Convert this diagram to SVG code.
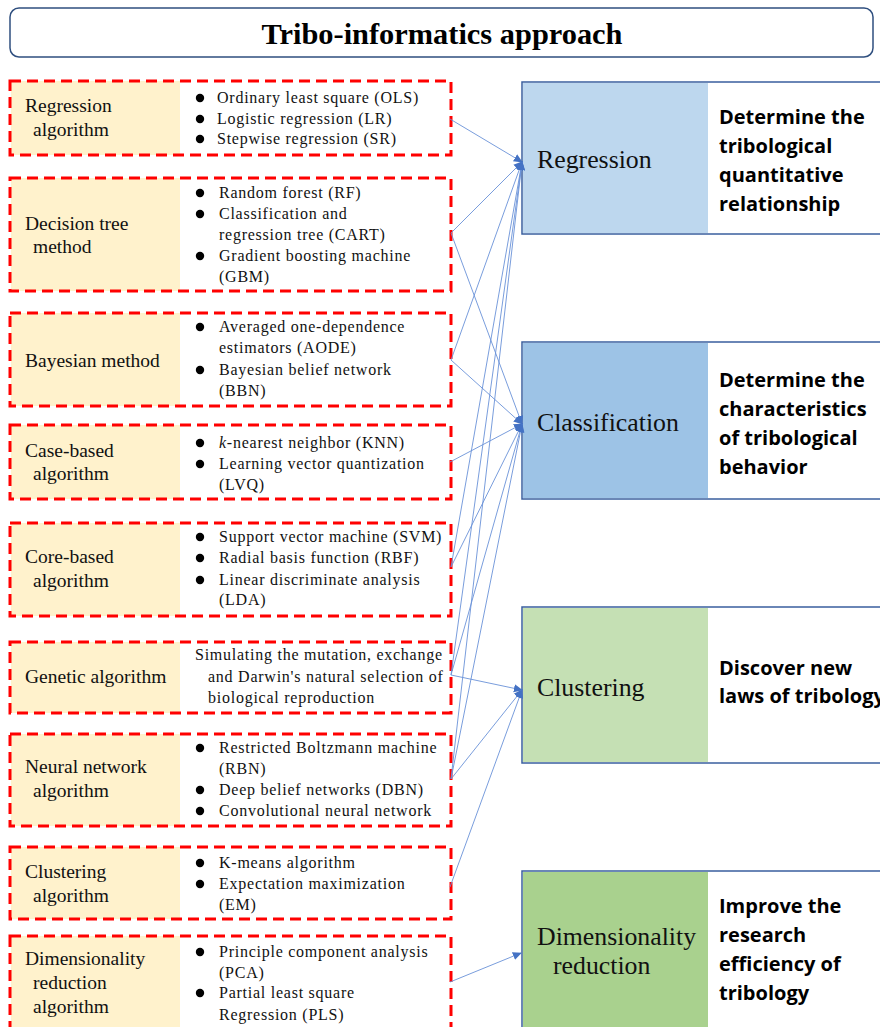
<svg xmlns="http://www.w3.org/2000/svg" width="880" height="1027" viewBox="0 0 880 1027">
  <defs>
    <marker id="arrow" viewBox="0 0 10 10" refX="9" refY="5" markerWidth="9" markerHeight="9" markerUnits="userSpaceOnUse" orient="auto">
      <path d="M0,0.5 L10,5 L0,9.5 Z" fill="#4472C4"/>
    </marker>
    <style>
      .frame { fill: none; stroke: #FF0000; stroke-width: 3; stroke-dasharray: 11 6; }
      .tag { fill: #FFF2CC; }
      .lbl { font-family: "Liberation Serif", "Times New Roman", serif; font-size: 19.5px; fill: #111; }
      .item { font-family: "Liberation Serif", "Times New Roman", serif; font-size: 16px; letter-spacing: 0.75px; fill: #111; }
      .dot { fill: #000; }
      .goal { stroke: #3A5F9E; stroke-width: 1.5; fill: #fff; }
      .goal-name { font-family: "Liberation Serif", "Times New Roman", serif; font-size: 25.8px; fill: #111; }
      .goal-text { font-family: "Open Sans", "Noto Sans", sans-serif; font-weight: bold; font-size: 20px; fill: #000; }
      .link { fill: none; stroke: #6A92D8; stroke-width: 0.9; marker-end: url(#arrow); }
    </style>
  </defs>

  <rect width="880" height="1027" fill="#fff"/>

  <!-- header -->
  <g id="title">
    <rect x="10" y="8" width="863" height="49" rx="9" fill="#fff" stroke="#2F4F7F" stroke-width="1.5"/>
    <text x="442" y="44" text-anchor="middle" font-family="Liberation Serif, Times New Roman, serif" font-weight="bold" font-size="30" textLength="361" lengthAdjust="spacingAndGlyphs" fill="#000">Tribo-informatics approach</text>
  </g>

  <!-- algorithm families -->
  <g id="regression-algorithm">
    <rect class="tag" x="11" y="81" width="169" height="74"/>
    <rect class="frame" x="10" y="81" width="441" height="74"/>
    <text class="lbl" x="25" y="112">Regression</text>
    <text class="lbl" x="33" y="136">algorithm</text>
    <circle class="dot" cx="200" cy="98" r="4.2"/>
    <circle class="dot" cx="200" cy="119" r="4.2"/>
    <circle class="dot" cx="200" cy="139" r="4.2"/>
    <text class="item" x="217" y="103">Ordinary least square (OLS)</text>
    <text class="item" x="217" y="124">Logistic regression (LR)</text>
    <text class="item" x="217" y="144">Stepwise regression (SR)</text>
  </g>

  <g id="decision-tree">
    <rect class="tag" x="11" y="178" width="169" height="113"/>
    <rect class="frame" x="10" y="178" width="441" height="113"/>
    <text class="lbl" x="25" y="230">Decision tree</text>
    <text class="lbl" x="33" y="253">method</text>
    <circle class="dot" cx="200" cy="193" r="4.2"/>
    <circle class="dot" cx="200" cy="214" r="4.2"/>
    <circle class="dot" cx="200" cy="256" r="4.2"/>
    <text class="item" x="219" y="198">Random forest (RF)</text>
    <text class="item" x="219" y="219">Classification and</text>
    <text class="item" x="219" y="240">regression tree (CART)</text>
    <text class="item" x="219" y="261">Gradient boosting machine</text>
    <text class="item" x="219" y="282">(GBM)</text>
  </g>

  <g id="bayesian">
    <rect class="tag" x="11" y="313" width="169" height="93"/>
    <rect class="frame" x="10" y="313" width="441" height="93"/>
    <text class="lbl" x="25" y="367">Bayesian method</text>
    <circle class="dot" cx="200" cy="327" r="4.2"/>
    <circle class="dot" cx="200" cy="370" r="4.2"/>
    <text class="item" x="219" y="332">Averaged one-dependence</text>
    <text class="item" x="219" y="353">estimators (AODE)</text>
    <text class="item" x="219" y="375">Bayesian belief network</text>
    <text class="item" x="219" y="396">(BBN)</text>
  </g>

  <g id="case-based">
    <rect class="tag" x="11" y="425" width="169" height="74"/>
    <rect class="frame" x="10" y="425" width="441" height="74"/>
    <text class="lbl" x="25" y="457">Case-based</text>
    <text class="lbl" x="33" y="480">algorithm</text>
    <circle class="dot" cx="200" cy="443" r="4.2"/>
    <circle class="dot" cx="200" cy="464" r="4.2"/>
    <text class="item" x="219" y="448"><tspan font-style="italic">k</tspan>-nearest neighbor (KNN)</text>
    <text class="item" x="219" y="469">Learning vector quantization</text>
    <text class="item" x="219" y="490">(LVQ)</text>
  </g>

  <g id="core-based">
    <rect class="tag" x="11" y="523" width="169" height="93"/>
    <rect class="frame" x="10" y="523" width="441" height="93"/>
    <text class="lbl" x="25" y="563">Core-based</text>
    <text class="lbl" x="33" y="587">algorithm</text>
    <circle class="dot" cx="200" cy="537" r="4.2"/>
    <circle class="dot" cx="200" cy="558" r="4.2"/>
    <circle class="dot" cx="200" cy="580" r="4.2"/>
    <text class="item" x="219" y="542">Support vector machine (SVM)</text>
    <text class="item" x="219" y="563">Radial basis function (RBF)</text>
    <text class="item" x="219" y="585">Linear discriminate analysis</text>
    <text class="item" x="219" y="605">(LDA)</text>
  </g>

  <g id="genetic">
    <rect class="tag" x="11" y="642" width="169" height="71"/>
    <rect class="frame" x="10" y="642" width="441" height="71"/>
    <text class="lbl" x="25" y="683">Genetic algorithm</text>
    <text class="item" x="195" y="660">Simulating the mutation, exchange</text>
    <text class="item" x="208" y="682">and Darwin's natural selection of</text>
    <text class="item" x="208" y="703">biological reproduction</text>
  </g>

  <g id="neural-network">
    <rect class="tag" x="11" y="734" width="169" height="92"/>
    <rect class="frame" x="10" y="734" width="441" height="92"/>
    <text class="lbl" x="25" y="773">Neural network</text>
    <text class="lbl" x="33" y="797">algorithm</text>
    <circle class="dot" cx="200" cy="748" r="4.2"/>
    <circle class="dot" cx="200" cy="790" r="4.2"/>
    <circle class="dot" cx="200" cy="811" r="4.2"/>
    <text class="item" x="219" y="753">Restricted Boltzmann machine</text>
    <text class="item" x="219" y="774">(RBN)</text>
    <text class="item" x="219" y="795">Deep belief networks (DBN)</text>
    <text class="item" x="219" y="816">Convolutional neural network</text>
  </g>

  <g id="clustering-algorithm">
    <rect class="tag" x="11" y="847" width="169" height="72"/>
    <rect class="frame" x="10" y="847" width="441" height="72"/>
    <text class="lbl" x="25" y="878">Clustering</text>
    <text class="lbl" x="33" y="902">algorithm</text>
    <circle class="dot" cx="200" cy="863" r="4.2"/>
    <circle class="dot" cx="200" cy="884" r="4.2"/>
    <text class="item" x="219" y="868">K-means algorithm</text>
    <text class="item" x="219" y="889">Expectation maximization</text>
    <text class="item" x="219" y="910">(EM)</text>
  </g>

  <g id="dimensionality-reduction-algorithm">
    <rect class="tag" x="11" y="936" width="169" height="100"/>
    <rect class="frame" x="10" y="936" width="441" height="100"/>
    <text class="lbl" x="25" y="965">Dimensionality</text>
    <text class="lbl" x="33" y="989">reduction</text>
    <text class="lbl" x="33" y="1013">algorithm</text>
    <circle class="dot" cx="200" cy="952" r="4.2"/>
    <circle class="dot" cx="200" cy="993" r="4.2"/>
    <text class="item" x="219" y="957">Principle component analysis</text>
    <text class="item" x="219" y="978">(PCA)</text>
    <text class="item" x="219" y="998">Partial least square</text>
    <text class="item" x="219" y="1020">Regression (PLS)</text>
  </g>

  <!-- tasks -->
  <g id="regression">
    <rect class="goal" x="522" y="82" width="370" height="152"/>
    <rect x="523" y="83" width="185" height="150" fill="#BDD7EE"/>
    <text class="goal-name" x="537" y="168">Regression</text>
    <text class="goal-text" x="719" y="124">Determine the</text>
    <text class="goal-text" x="719" y="153">tribological</text>
    <text class="goal-text" x="719" y="182">quantitative</text>
    <text class="goal-text" x="719" y="211">relationship</text>
  </g>

  <g id="classification">
    <rect class="goal" x="522" y="342" width="370" height="157"/>
    <rect x="523" y="343" width="185" height="155" fill="#9DC3E6"/>
    <text class="goal-name" x="537" y="431">Classification</text>
    <text class="goal-text" x="719" y="387">Determine the</text>
    <text class="goal-text" x="719" y="416">characteristics</text>
    <text class="goal-text" x="719" y="445">of tribological</text>
    <text class="goal-text" x="719" y="474">behavior</text>
  </g>

  <g id="clustering">
    <rect class="goal" x="522" y="607" width="370" height="156"/>
    <rect x="523" y="608" width="185" height="154" fill="#C5E0B4"/>
    <text class="goal-name" x="537" y="696">Clustering</text>
    <text class="goal-text" x="719" y="675">Discover new</text>
    <text class="goal-text" x="719" y="703">laws of tribology</text>
  </g>

  <g id="dimensionality-reduction">
    <rect class="goal" x="522" y="871" width="370" height="170"/>
    <rect x="523" y="872" width="185" height="168" fill="#A9D18E"/>
    <text class="goal-name" x="537" y="945">Dimensionality</text>
    <text class="goal-name" x="553" y="974">reduction</text>
    <text class="goal-text" x="719" y="913">Improve the</text>
    <text class="goal-text" x="719" y="942">research</text>
    <text class="goal-text" x="719" y="971">efficiency of</text>
    <text class="goal-text" x="719" y="1000">tribology</text>
  </g>

  <!-- connectors: algorithm family -> task -->
  <g id="connectors">
    <line class="link" x1="450" y1="119" x2="522" y2="162"/>
    <line class="link" x1="451" y1="233" x2="522" y2="162"/>
    <line class="link" x1="451" y1="233" x2="522" y2="424"/>
    <line class="link" x1="451" y1="360" x2="522" y2="162"/>
    <line class="link" x1="451" y1="360" x2="522" y2="424"/>
    <line class="link" x1="450" y1="462" x2="522" y2="424"/>
    <line class="link" x1="451" y1="567" x2="522" y2="162"/>
    <line class="link" x1="451" y1="567" x2="522" y2="424"/>
    <line class="link" x1="451" y1="675" x2="522" y2="162"/>
    <line class="link" x1="451" y1="675" x2="522" y2="424"/>
    <line class="link" x1="451" y1="675" x2="522" y2="690"/>
    <line class="link" x1="451" y1="779" x2="522" y2="162"/>
    <line class="link" x1="451" y1="779" x2="522" y2="424"/>
    <line class="link" x1="451" y1="779" x2="522" y2="690"/>
    <line class="link" x1="450" y1="887" x2="522" y2="690"/>
    <line class="link" x1="450" y1="982" x2="521" y2="953"/>
  </g>
</svg>
